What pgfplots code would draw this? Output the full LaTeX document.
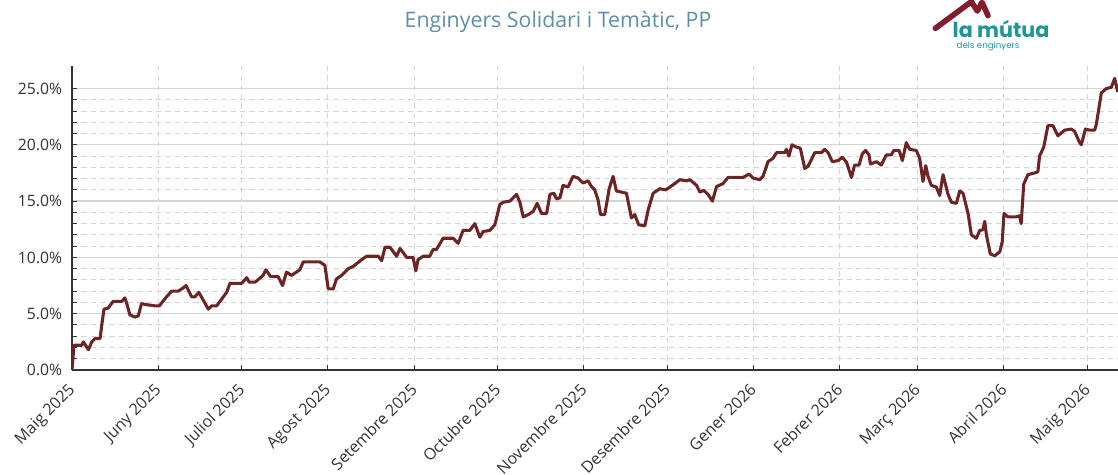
\documentclass[border=0pt]{standalone}
\usepackage{pgfplots}
\pgfplotsset{compat=1.18}
\usepackage{fontspec}
\setmainfont{Open Sans}
\newfontfamily\logofont{Poppins}
\definecolor{linecol}{RGB}{108,36,36}
\definecolor{titlecol}{RGB}{92,142,168}
\definecolor{gridcol}{RGB}{212,212,212}
\definecolor{tickcol}{RGB}{51,51,51}
\definecolor{teal}{RGB}{28,150,150}
\definecolor{maroon}{RGB}{128,30,45}
\begin{document}
\begin{tikzpicture}
\useasboundingbox (0,0) rectangle (838.5pt,356.25pt);
\node[text=titlecol, font=\fontsize{16}{18}\selectfont] at (418.5pt,339.5pt) {Enginyers Solidari i Temàtic, PP};
% logo
\draw[maroon, line width=4.2pt, line join=round, line cap=round] (701.5pt,335pt) -- (728.5pt,355pt) -- (733pt,348pt) -- (736.5pt,354.5pt) -- (741pt,344.5pt);
\node[text=teal, font=\logofont\bfseries\fontsize{15.5}{16}\selectfont, anchor=west] at (711pt,334.5pt) {la mútua};
\node[text=teal, font=\logofont\fontsize{6.5}{7}\selectfont, anchor=west] at (714pt,321.5pt) {dels enginyers};
\begin{axis}[
  at={(54pt,78.75pt)}, anchor=south west,
  width=784.5pt, height=228pt, scale only axis,
  xmin=0, xmax=376, ymin=0, ymax=27,
  axis x line=bottom, axis y line=left,
  axis line style={tickcol, line width=1pt, -},
  xtick={0,31,61,92,123,153,184,214,245,276,304,335,365},
  xticklabels={Maig 2025,Juny 2025,Juliol 2025,Agost 2025,Setembre 2025,Octubre 2025,Novembre 2025,Desembre 2025,Gener 2026,Febrer 2026,Març 2026,Abril 2026,Maig 2026},
  xticklabel style={rotate=45, anchor=north east, font=\fontsize{12}{13}\selectfont, text=tickcol, inner sep=1pt, xshift=-8pt, yshift=-3pt},
  ytick={0,5,10,15,20,25},
  minor y tick num=4,
  yticklabel={\pgfmathprintnumber[fixed,fixed zerofill,precision=1]{\tick}\%},
  yticklabel style={font=\fontsize{11.8}{13}\selectfont, text=tickcol, xshift=-4pt},
  /pgf/number format/assume math mode=true,
  tick align=inside,
  major tick length=4pt, minor tick length=4pt,
  tick style={tickcol, line width=0.8pt},
  xmajorgrids, ymajorgrids, yminorgrids,
  major x grid style={gridcol, line width=0.8pt, dash pattern=on 4pt off 3pt},
  major y grid style={gridcol, solid, line width=1pt},
  minor y grid style={gridcol, line width=0.8pt, dash pattern=on 4pt off 3pt},
  clip=true,
]
\addplot[linecol, line width=2.3pt, line join=round] coordinates {
(0,0.0) (0.7,2.2) (3.5,2.2) (4.1,2.5) (5.9,1.8) (7.1,2.5) (8.3,2.8) (10.1,2.8) (10.7,4.0) (11.5,5.4)
(13.0,5.5) (14.8,6.1) (17.9,6.1) (19.0,6.4) (19.7,5.9) (20.8,4.9) (22.6,4.7) (23.8,4.8) (25.0,5.9) (26.8,5.8)
(29.8,5.7) (31.4,5.7) (34.0,6.5) (35.8,7.0) (38.2,7.0) (40.0,7.3) (41.0,7.5) (43.0,6.5) (44.2,6.5) (45.6,6.9)
(47.2,6.2) (49.0,5.4) (50.2,5.7) (52.0,5.7) (54.4,6.5) (55.6,6.9) (56.8,7.7) (61.0,7.7) (62.8,8.2) (63.7,7.8)
(65.8,7.8) (68.7,8.4) (69.7,8.9) (71.4,8.3) (74.1,8.3) (75.7,7.5) (77.1,8.7) (78.9,8.4) (80.7,8.7) (81.9,8.9)
(83.1,9.6) (89.1,9.6) (90.9,9.3) (92.1,7.2) (93.9,7.2) (95.1,8.1) (96.9,8.4) (99.3,9.0) (101.1,9.2) (104.1,9.8)
(105.9,10.1) (110.1,10.1) (111.3,9.7) (112.5,10.9) (114.3,10.9) (116.7,10.1) (117.9,10.8) (120.3,10.0) (122.6,10.0) (123.6,8.8)
(124.4,9.8) (126.2,10.1) (128.6,10.1) (129.8,10.7) (131.0,10.7) (133.4,11.7) (137.0,11.7) (138.8,11.25) (140.6,12.4) (143.0,12.4)
(144.8,13.0) (146.6,11.8) (147.8,12.3) (150.2,12.4) (152.0,12.9) (153.8,14.7) (155.0,14.9) (157.4,15.0) (158.6,15.3) (159.8,15.6)
(161.0,14.9) (162.2,13.6) (164.0,13.8) (165.8,14.1) (167.2,14.8) (168.8,13.9) (170.6,13.9) (171.8,15.6) (173.2,15.7) (174.2,15.2)
(175.4,15.3) (176.5,16.4) (178.3,16.25) (180.1,17.2) (181.9,17.05) (183.7,16.6) (185.5,16.8) (186.7,16.3) (187.9,16.0) (189.1,15.1)
(190.0,13.8) (191.5,13.8) (193.1,16.1) (194.5,17.2) (195.7,15.9) (197.5,15.8) (199.3,15.7) (201.1,13.5) (202.3,13.8) (203.7,12.9)
(205.9,12.8) (207.1,14.2) (208.9,15.7) (211.3,16.1) (213.4,16.0) (216.1,16.45) (218.5,16.9) (220.9,16.8) (222.1,16.9) (224.5,16.4)
(225.7,15.8) (227.1,15.95) (228.6,15.6) (230.2,15.0) (231.7,16.3) (234.0,16.55) (235.8,17.1) (241.2,17.1) (243.4,17.4) (244.8,17.05)
(247.2,16.9) (248.4,17.2) (250.2,18.5) (252.0,18.8) (253.2,19.3) (256.2,19.3) (256.8,19.6) (257.7,19.0) (258.8,20.0) (260.4,19.8)
(261.8,19.7) (263.4,17.9) (264.6,18.1) (267.0,19.3) (269.4,19.3) (270.6,19.6) (271.8,19.3) (273.3,18.5) (275.4,18.6) (276.9,18.9)
(278.4,18.45) (280.2,17.1) (281.3,18.2) (282.9,18.2) (284.1,19.2) (285.3,19.5) (286.5,19.1) (287.0,18.3) (289.2,18.5) (290.9,18.2)
(292.7,19.1) (294.5,19.1) (295.4,19.5) (297.3,19.5) (298.5,18.6) (299.9,20.2) (301.1,19.6) (303.5,19.5) (304.7,18.8) (305.9,16.75)
(306.9,18.15) (307.7,17.2) (308.9,16.4) (310.7,16.25) (311.9,15.5) (313.1,17.35) (314.9,15.6) (316.1,14.9) (317.9,14.8) (319.1,15.9)
(320.3,15.7) (322.1,13.9) (323.3,12.0) (325.1,11.7) (326.3,12.4) (327.4,12.45) (328.1,13.2) (328.7,12.0) (330.1,10.3) (331.7,10.15)
(333.5,10.5) (334.4,11.4) (335.0,13.9) (336.4,13.6) (339.4,13.6) (340.6,13.7) (341.2,13.0) (342.1,16.5) (343.6,17.35) (346.0,17.5)
(347.2,17.6) (347.8,19.0) (349.3,19.8) (350.8,21.7) (352.6,21.7) (354.4,20.8) (356.8,21.3) (359.2,21.4) (360.4,21.2) (362.2,20.2)
(362.8,20.0) (364.3,21.4) (365.8,21.3) (367.6,21.3) (368.2,21.8) (370.0,24.6) (371.8,25.0) (373.6,25.1) (374.8,25.9) (375.9,24.7)
};
\end{axis}
\end{tikzpicture}
\end{document}
